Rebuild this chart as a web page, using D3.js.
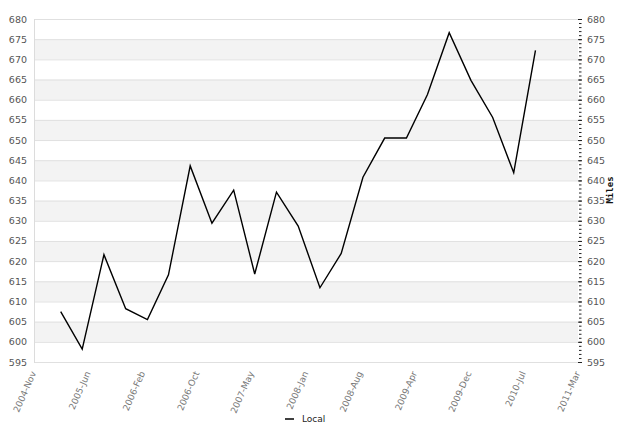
<!DOCTYPE html>
<html><head><meta charset="utf-8">
<script src="https://cdn.jsdelivr.net/npm/d3@7/dist/d3.min.js"></script>
<style>body{margin:0;background:#fff}svg{display:block}text{font-family:"DejaVu Sans",sans-serif}</style>
</head><body>
<svg id="c" width="618" height="427"></svg>
<script>
const dates = ["2005-02-22","2005-05-24","2005-08-24","2005-11-24","2006-02-24","2006-05-24","2006-08-24","2006-11-24","2007-02-24","2007-05-24","2007-08-24","2007-11-24","2008-02-24","2008-05-24","2008-08-24","2008-11-24","2009-02-24","2009-05-24","2009-08-24","2009-11-24","2010-02-24","2010-05-24","2010-08-24"];
const local = [607.5,598.2,621.6,608.2,605.5,616.6,643.6,629.4,637.6,616.8,637.1,628.7,613.4,621.9,640.8,650.5,650.5,661.3,676.6,664.8,655.6,641.9,672.2];
const xTickLabels = ["2004-Nov","2005-Jun","2006-Feb","2006-Oct","2007-May","2008-Jan","2008-Aug","2009-Apr","2009-Dec","2010-Jul","2011-Mar"];
const yMin = 595, yMax = 680;
const seriesName = "Local";
const axisTitle = "Miles";

const svg = d3.select("#c");
const L = 34, R = 578, T = 19, B = 362;
const parse = d3.timeParse("%Y-%m-%d");
const t0 = parse("2004-11-01"), t1 = parse("2011-02-20");
const x = d3.scaleTime().domain([t0, t1]).range([L, R]);
const y = d3.scaleLinear().domain([yMin, yMax]).range([B, T]);

const major = d3.range(yMin, yMax + 0.1, 5);
// bands
svg.append("g").selectAll("rect").data(major.filter(v => v < yMax && ((v - yMin) / 5) % 2 === 1))
  .join("rect").attr("x", L).attr("width", R - L)
  .attr("y", d => y(d + 5)).attr("height", d => y(d) - y(d + 5)).attr("fill", "#f3f3f3");
// gridlines
svg.append("g").selectAll("line").data(major).join("line")
  .attr("x1", L).attr("x2", R).attr("y1", d => y(d) + 0.5).attr("y2", d => y(d) + 0.5)
  .attr("stroke", "#e0e0e0").attr("stroke-width", 1);
svg.append("line").attr("x1", L + 0.5).attr("x2", L + 0.5).attr("y1", T).attr("y2", B + 1)
  .attr("stroke", "#dcdcdc");

// left axis
const ly = svg.append("g").attr("transform", `translate(${L},0)`)
  .call(d3.axisLeft(y).tickValues(major).tickSize(0).tickPadding(7).tickFormat(d3.format("d")));
ly.select(".domain").remove();
ly.selectAll("text").attr("font-size", 9.5).attr("fill", "#555").style("font-family", "DejaVu Sans");

// right axis minor ticks
const ry = svg.append("g").attr("transform", `translate(${R + 1},0)`);
ry.call(d3.axisRight(y).tickValues(d3.range(yMin, yMax + 0.1, 1)).tickSize(2.5).tickFormat(""));
ry.select(".domain").remove();
ry.selectAll("line").attr("stroke", "#222");
const ry2 = svg.append("g").attr("transform", `translate(${R},0)`)
  .call(d3.axisRight(y).tickValues(major).tickSize(4).tickPadding(5).tickFormat(d3.format("d")));
ry2.select(".domain").remove();
ry2.selectAll("line").attr("stroke", "#222");
ry2.selectAll("text").attr("font-size", 9.5).attr("fill", "#555").style("font-family", "DejaVu Sans");

svg.append("text").attr("transform", `translate(613,190) rotate(-90)`)
  .attr("text-anchor", "middle").attr("font-size", 9).attr("font-weight", "bold")
  .style("font-family", "DejaVu Sans Mono").attr("fill", "#111").text(axisTitle);

// x axis
const ticks = xTickLabels.map((d, i) => new Date(+t0 + (t1 - t0) * i / (xTickLabels.length - 1)));
const gx = svg.append("g").attr("transform", `translate(0,${B})`)
  .call(d3.axisBottom(x).tickValues(ticks).tickSize(0).tickPadding(0).tickFormat((d, i) => xTickLabels[i]));
gx.select(".domain").remove();
gx.selectAll("text").attr("font-size", 9).attr("fill", "#777").style("font-family", "DejaVu Sans")
  .attr("text-anchor", "end").attr("dy", 0).attr("y", 0)
  .attr("transform", "translate(2,11) rotate(-66)");

// line
const pts = dates.map((d, i) => ({ t: parse(d), v: local[i] }));
svg.append("path").datum(pts).attr("fill", "none").attr("stroke", "#000").attr("stroke-width", 1.4)
  .attr("stroke-linejoin", "miter")
  .attr("d", d3.line().x(d => x(d.t)).y(d => y(d.v)));

// legend
svg.append("line").attr("x1", 285).attr("x2", 294).attr("y1", 419).attr("y2", 419).attr("stroke", "#000").attr("stroke-width", 1.5);
svg.append("text").attr("x", 302).attr("y", 422).attr("font-size", 9).attr("fill", "#222").text(seriesName);
</script>
</body></html>
